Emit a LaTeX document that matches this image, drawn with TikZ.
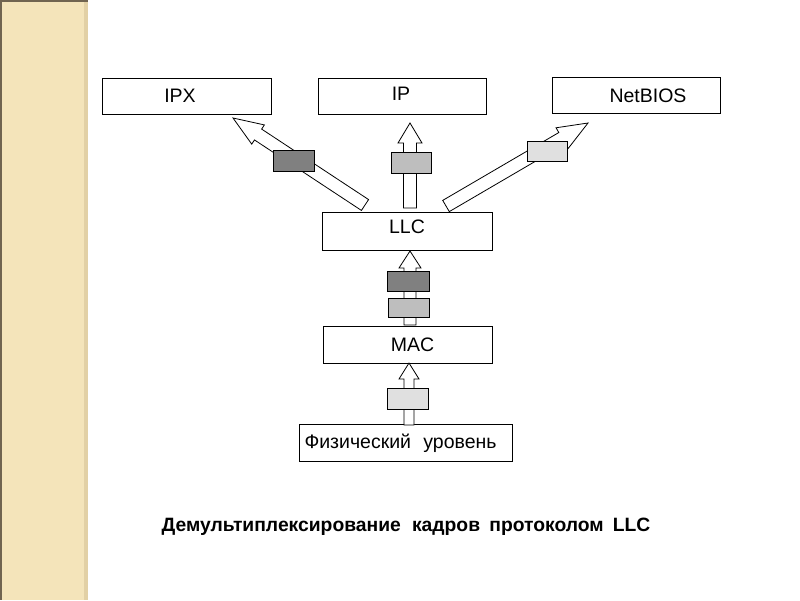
\documentclass[tikz,border=0pt]{standalone}
\usepackage{fontspec}
\setmainfont{Liberation Sans}
\usetikzlibrary{calc}
\definecolor{strip}{RGB}{244,228,186}
\definecolor{stripedge}{RGB}{226,208,165}
\definecolor{stripline}{RGB}{112,100,80}
\definecolor{darkfill}{RGB}{128,128,128}
\definecolor{midfill}{RGB}{190,190,190}
\definecolor{lightfill}{RGB}{224,224,224}
\tikzset{
  box/.style={draw=black, line width=0.9pt, inner sep=0pt, fill=white},
  lbl/.style={anchor=base, inner sep=0pt, font=\fontsize{19.5}{22}\selectfont},
  arrowsty/.style={draw=black, line width=0.8pt, fill=white, line join=miter},
  tag/.style={draw=black, line width=0.8pt, inner sep=0pt},
}
\newcommand{\blockarr}[5]{%
  \draw[arrowsty] let \p1=(#1), \p2=(#2),
     \n1={atan2(\y2-\y1,\x2-\x1)},
     \n2={veclen(\x2-\x1,\y2-\y1)-#5} in
    ($(\p1)+(\n1+90:#3)$) -- ($(\p1)+(\n1:\n2)+(\n1+90:#3)$)
    -- ($(\p1)+(\n1:\n2)+(\n1+90:#4)$) -- (\p2)
    -- ($(\p1)+(\n1:\n2)+(\n1-90:#4)$) -- ($(\p1)+(\n1:\n2)+(\n1-90:#3)$)
    -- ($(\p1)+(\n1-90:#3)$) -- cycle;}
\begin{document}
\begin{tikzpicture}[x=1pt,y=-1pt]
\useasboundingbox (0,0) rectangle (800,600);
\fill[white] (0,0) rectangle (800,600);
% left decorative strip
\fill[strip] (0,0) rectangle (88,600);
\fill[stripedge] (84,0) rectangle (88,600);
\fill[stripline] (0,0) rectangle (1.5,600);
\fill[stripline] (0,0) rectangle (88,1.5);

% boxes
\node[box, minimum width=169pt, minimum height=36pt] (ipx) at (186.5,96.5) {};
\node[box, minimum width=168pt, minimum height=36pt] (ip) at (402,96) {};
\node[box, minimum width=168pt, minimum height=36pt] (netbios) at (636,95.5) {};
\node[box, minimum width=170pt, minimum height=38pt] (llc) at (407,231) {};
\node[box, minimum width=169pt, minimum height=37pt] (mac) at (408,344.5) {};
\node[box, minimum width=213pt, minimum height=37pt] (phys) at (405.5,443) {};

% labels
\node[lbl] (tipx) at (180,102) {IPX};
\node[lbl] (tip) at (401,100) {IP};
\node[lbl] (tnet) at (648,102) {NetBIOS};
\node[lbl] (tllc) at (407,233) {LLC};
\node[lbl] (tmac) at (412.5,351) {MAC};
\node[lbl] (tphys) at (400.5,448) {Физический\hspace{0.35em} уровень};

% arrow end points
\coordinate (a1t) at (365,205);  \coordinate (a1h) at (233,118);
\coordinate (a2t) at (410,208);  \coordinate (a2h) at (410,123);
\coordinate (a3t) at (446,206);  \coordinate (a3h) at (588,123);
\coordinate (a4t) at (410,325);  \coordinate (a4h) at (410,251);
\coordinate (a5t) at (409,425);  \coordinate (a5h) at (409,363);

\blockarr{a1t}{a1h}{6.5pt}{11.5pt}{30}
\blockarr{a2t}{a2h}{6.5pt}{12pt}{20}
\blockarr{a3t}{a3h}{6.5pt}{12pt}{30}
\blockarr{a4t}{a4h}{6pt}{11pt}{17}
\blockarr{a5t}{a5h}{5pt}{10pt}{16}

% frame tags on arrows
\node[tag, fill=darkfill, minimum width=41pt, minimum height=21pt] (f1) at (293.5,160.5) {};
\node[tag, fill=midfill, minimum width=40pt, minimum height=21pt] (f2) at (411,162.5) {};
\node[tag, fill=lightfill, minimum width=40pt, minimum height=20pt] (f3) at (547,151) {};
\node[tag, fill=darkfill, minimum width=42pt, minimum height=20pt] (f4) at (408,281) {};
\node[tag, fill=midfill, minimum width=41pt, minimum height=19pt] (f5) at (408.5,307.5) {};
\node[tag, fill=lightfill, minimum width=41pt, minimum height=21pt] (f6) at (407.5,398.5) {};

% caption
\node[anchor=base, inner sep=0pt, font=\bfseries\fontsize{19.3}{22}\selectfont] (cap) at (406,531.5)
  {Демультиплексирование\hspace{0.3em} кадров\hspace{0.2em} протоколом\hspace{0.2em} LLC};
\end{tikzpicture}
\end{document}
